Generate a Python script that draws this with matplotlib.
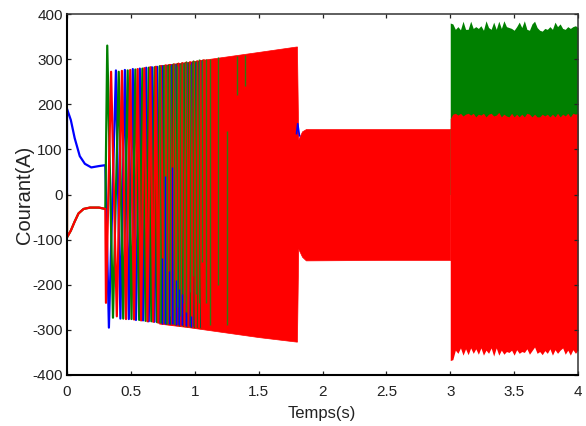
import matplotlib
matplotlib.use("Agg")
import matplotlib.pyplot as plt

# start-up transient then oscillation turning points, one list per phase
blue_t = [0, 0, .03, .06, .1, .14, .19, .25, .3, .328, .383, .418, .453, .484, .515, .54, .57, .595, .62, .64,
          .665, .685, .705, .725, .745, .76, .78, .795, .815, .83, .85, .865, .88, .895, .91, .925, .94, .955,
          .97, .985, 1.0, 1.01, 1.025, 1.04, 1.05]
blue_y = [0, 190, 165, 125, 85, 68, 60, 63, 65, -295, 275, -275, 276, -276, 278, -278, 279, -279, 281, -281,
          282, -282, 283, -283, 284, -284, 285, -285, 286, -286, 287, -287, 288, -288, 289, -289, 290, -290,
          291, -291, 292, -292, 293, -293, 294]
green_t = [0, 0, .03, .06, .09, .13, .18, .25, .3, .315, .36, .405, .44, .475, .505, .535, .565, .59, .615, .64,
           .66, .685, .705, .725, .745, .762, .78, .798, .815, .833, .85, .866, .882, .898, .913, .928, .943,
           .958, .973, .988, 1.0, 1.015, 1.028, 1.04, 1.052, 1.065]
green_y = [0, -95, -80, -60, -42, -32, -29, -29, -32, 330, -273, 272, -275, 275, -276, 277, -278, 279, -280, 281,
           -281, 282, -283, 284, -284, 285, -286, 286, -287, 288, -288, 289, -290, 290, -291, 291, -292,
           292, -293, 293, -294, 294, -294, 295, -295, 296]
red_t = [0, 0, .03, .06, .09, .13, .18, .25, .3, .305, .345, .39, .43, .462, .495, .525, .553, .58, .605, .63,
         .652, .675, .695, .715, .735, .755, .772, .79, .806, .823, .84, .857, .873, .889, .904, .92, .934,
         .95, .964, .98, .993, 1.008, 1.02, 1.033, 1.045, 1.058, 1.07]
red_y = [0, -95, -80, -60, -42, -32, -29, -29, -32, -240, 272, -270, 274, -276, 276, -277, 278, -279, 280, -281,
         282, -282, 283, -284, 284, -285, 286, -286, 287, -288, 288, -289, 290, -290, 291, -291, 292,
         -292, 293, -293, 294, -294, 295, -295, 296, -296, 297]

# solid part of the red trace: envelope only
band_t = [.72, .95, 1.2, 1.5, 1.795, 1.8, 1.81, 1.84, 1.87, 2.5, 3.0]
band_top = [286, 294, 304, 316, 328, 328, 122, 140, 145, 145, 145]
band_bot = [-286, -294, -304, -316, -326, -326, -120, -138, -146, -145, -145]

# green and blue lines still visible inside the red
stripe_t = [.73, .76, .785, .81, .835, .86, .885, .91, .935, .96, .985, 1.01, 1.035, 1.06, 1.085, 1.12, 1.18,
            1.25, 1.33, 1.39]
stripe_lo = [-284, -285, -286, -270, -288, -250, -270, -240, -280, -215, -180, -220, -240, -150, -240, -290,
             -200, -290, 220, 240]
stripe_hi = [285, 286, 287, 288, 290, 285, 290, 292, 296, 290, 298, 296, 300, 298, 300, 300, 304, 140, 306, 310]
blue_stripe_t = [.745, .77, .8, .825, .85, .875, .9, .93, .97]
blue_stripe_lo = [-286, -286, -288, -288, -289, -290, -290, -292, -294]
blue_stripe_hi = [-140, 40, -170, 60, -190, -210, -220, -260, -270]

# short overshoot when the speed ramp ends
spike_t = [1.797, 1.806, 1.82]
spike_y = [135, 157, 130]

# after the load step at t=3
step_t = [3.0, 3.02, 3.04, 3.06, 3.08, 3.1, 3.12, 3.14, 3.16, 3.18, 3.2, 3.22, 3.24, 3.26, 3.28, 3.3, 3.32, 3.34,
          3.36, 3.38, 3.4, 3.42, 3.44, 3.46, 3.48, 3.5, 3.52, 3.54, 3.56, 3.58, 3.6, 3.62, 3.64, 3.66, 3.68,
          3.7, 3.72, 3.74, 3.76, 3.78, 3.8, 3.82, 3.84, 3.86, 3.88, 3.9, 3.92, 3.94, 3.96, 3.98, 4.0]
green_top = [380, 378, 366, 372, 365, 384, 366, 366, 384, 368, 372, 368, 374, 364, 385, 370, 366, 382, 366, 384,
             368, 385, 372, 370, 368, 364, 372, 382, 370, 385, 366, 364, 378, 384, 370, 364, 362, 368, 366, 372,
             366, 382, 372, 378, 368, 366, 372, 368, 372, 374, 370]
red_top = [168, 178, 180, 176, 180, 174, 178, 180, 176, 180, 172, 178, 176, 180, 172, 178, 180, 174, 176, 182,
           172, 178, 174, 172, 180, 172, 178, 172, 178, 172, 180, 178, 172, 178, 172, 172, 178, 174, 178, 172,
           178, 172, 180, 172, 178, 174, 180, 172, 180, 178, 180]
red_bot = [-368, -366, -345, -352, -340, -356, -342, -355, -340, -352, -342, -354, -340, -356, -345, -352, -340,
           -358, -340, -356, -345, -354, -348, -350, -345, -356, -344, -352, -348, -350, -342, -354, -346, -338,
           -352, -348, -355, -346, -352, -342, -356, -344, -352, -345, -340, -354, -345, -356, -344, -352, -345]

xticks = [0, 0.5, 1, 1.5, 2, 2.5, 3, 3.5, 4]
xlabels = ["0", "0.5", "1", "1.5", "2", "2.5", "3", "3.5", "4"]
yticks = [-400, -300, -200, -100, 0, 100, 200, 300, 400]

plt.rcParams["font.family"] = "Liberation Sans"
plt.rcParams["text.color"] = "#222222"
plt.rcParams["axes.labelcolor"] = "#222222"
plt.rcParams["xtick.labelcolor"] = "#222222"
plt.rcParams["ytick.labelcolor"] = "#222222"

fig = plt.figure(figsize=(5.86, 4.26), dpi=100)
ax = fig.add_axes([67 / 586, 1 - 375 / 426, 511 / 586, 361 / 426])

ax.plot(spike_t, spike_y, color="#0000ff", lw=1.2)
ax.plot(blue_t, blue_y, color="#0000ff", lw=1.6)
ax.plot(green_t, green_y, color="#008000", lw=1.6)
ax.plot(red_t, red_y, color="#ff0000", lw=1.6)
ax.fill_between(band_t, band_bot, band_top, color="#ff0000", lw=0.5)
ax.vlines(stripe_t, stripe_lo, stripe_hi, color="#2e7d10", lw=1.0)
ax.vlines(blue_stripe_t, blue_stripe_lo, blue_stripe_hi, color="#0000ff", lw=1.0)

ax.fill_between(step_t, 0, green_top, color="#008000", lw=0)
ax.fill_between(step_t, red_bot, red_top, color="#ff0000", lw=0)

ax.set_xlim(0, 4)
ax.set_ylim(-400, 400)
ax.set_xticks(xticks)
ax.set_xticklabels(xlabels, fontsize=11)
ax.set_yticks(yticks)
ax.set_yticklabels([str(v) for v in yticks], fontsize=11)
ax.tick_params(direction="in", top=True, right=True, length=3, width=0.9, color="#222222")
ax.tick_params(axis="x", pad=7)
ax.tick_params(axis="y", pad=3)
ax.set_xlabel("Temps(s)", fontsize=12)
ax.xaxis.set_label_coords(0.498, -0.085, transform=ax.transAxes)
ax.set_ylabel("Courant(A)", fontsize=14.5)
ax.yaxis.set_label_coords(-0.064, 0.5, transform=ax.transAxes)

for side in ["left", "bottom"]:
    ax.spines[side].set_linewidth(1.5)
for side in ["top", "right"]:
    ax.spines[side].set_linewidth(1.1)
    ax.spines[side].set_color("#333333")

fig.savefig("out.png", dpi=100)
